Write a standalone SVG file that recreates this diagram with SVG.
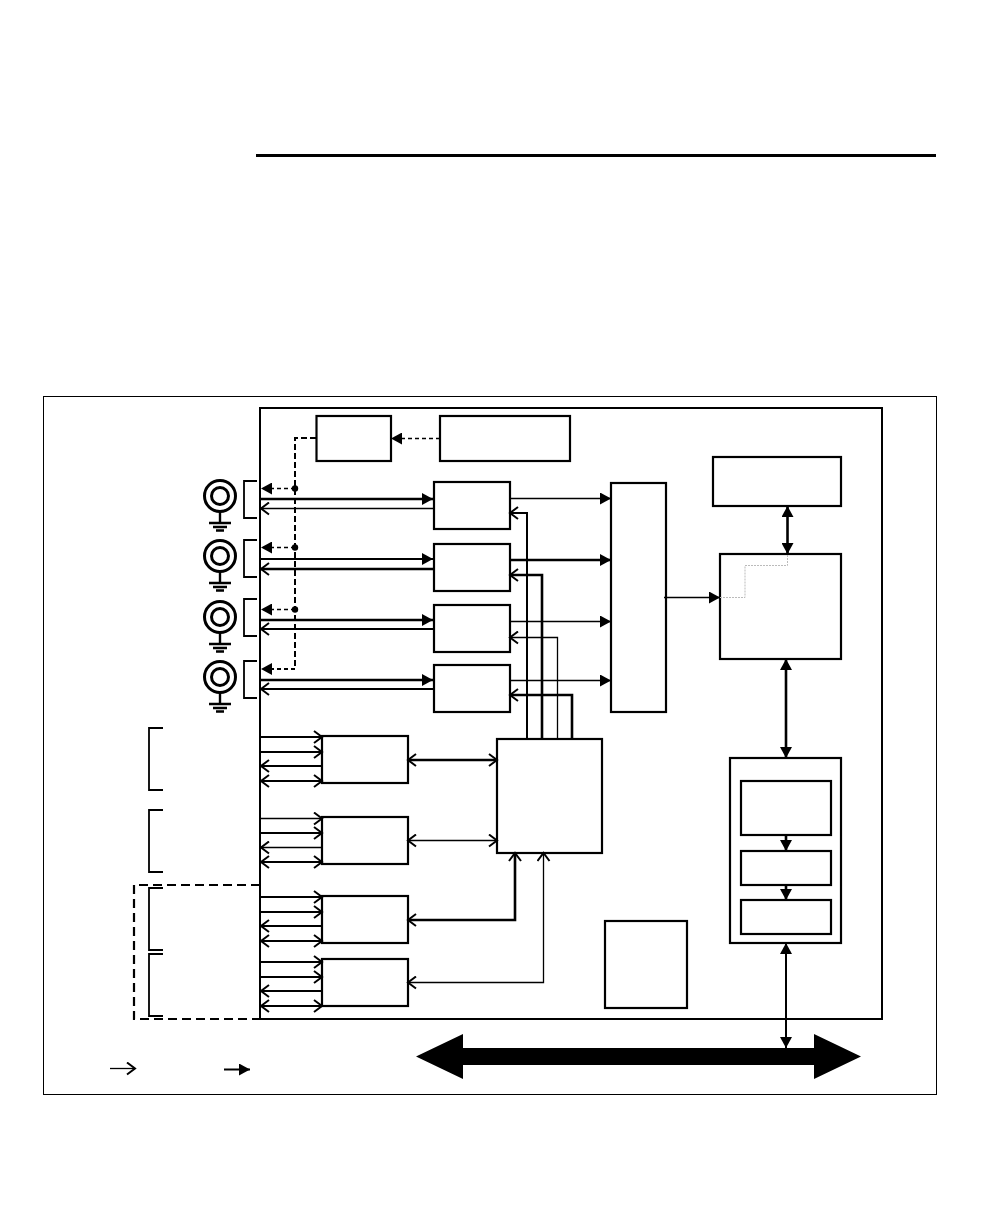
<svg xmlns="http://www.w3.org/2000/svg" width="1008" height="1224" viewBox="0 0 1008 1224">
<style>
.box{fill:#fff;stroke:#000;stroke-width:2.2}
.w{fill:none;stroke:#000;stroke-width:1.3}
.m{fill:none;stroke:#000;stroke-width:2}
.t{fill:none;stroke:#000;stroke-width:2.6}
.d{fill:none;stroke:#000;stroke-width:1.6;stroke-dasharray:4 3}
.dv{fill:none;stroke:#000;stroke-width:2;stroke-dasharray:6 3}
.dd{fill:none;stroke:#000;stroke-width:2.2;stroke-dasharray:9 5}
.g{fill:none;stroke:#bbb;stroke-width:1;stroke-dasharray:2 1}
.oe{marker-end:url(#open)}
.os{marker-start:url(#openS)}
.fe{marker-end:url(#fill)}
.fs{marker-start:url(#fillS)}
</style>
<defs>
<marker id="open" markerUnits="userSpaceOnUse" markerWidth="12" markerHeight="14" refX="10" refY="7" orient="auto"><path d="M2,1 L10,7 L2,13" fill="none" stroke="#000" stroke-width="2"/></marker>
<marker id="openS" markerUnits="userSpaceOnUse" markerWidth="12" markerHeight="14" refX="2" refY="7" orient="auto"><path d="M10,1 L2,7 L10,13" fill="none" stroke="#000" stroke-width="2"/></marker>
<marker id="fill" markerUnits="userSpaceOnUse" markerWidth="11" markerHeight="12" refX="11" refY="6" orient="auto"><path d="M0,0 L11,6 L0,12 Z" fill="#000"/></marker>
<marker id="fillS" markerUnits="userSpaceOnUse" markerWidth="11" markerHeight="12" refX="0" refY="6" orient="auto"><path d="M11,0 L0,6 L11,12 Z" fill="#000"/></marker>
<g id="jack"><circle cx="0" cy="0" r="15.5" fill="none" stroke="#000" stroke-width="3"/><circle cx="0" cy="0" r="8.5" fill="none" stroke="#000" stroke-width="3"/><path d="M0,15 V27" stroke="#000" stroke-width="2.4"/><path d="M-11,27 H11 M-7,31 H7 M-4,34.500 H4" stroke="#000" stroke-width="2.4"/></g>
<path id="br" d="M13,0 H0 V37 H13" fill="none" stroke="#000" stroke-width="1.800"/>
<path id="lbr" d="M14,0 H0 V62 H14" fill="none" stroke="#000" stroke-width="1.800"/>
</defs>
<rect width="1008" height="1224" fill="#fff"/>
<path id="rule" d="M256,155.500 H936" stroke="#000" stroke-width="3"/>
<rect id="frame" x="43.500" y="396.500" width="893" height="698" fill="none" stroke="#000" stroke-width="1"/>
<rect id="main" x="260" y="408" width="622" height="611" fill="none" stroke="#000" stroke-width="2"/>
<path id="expansion" class="dd" d="M260,885 H134 V1019 H260"/>

<g id="nodes">
<g id="n-a"><rect class="box" x="316.500" y="416" width="74.500" height="45"/></g>
<g id="n-b"><rect class="box" x="440" y="416" width="130" height="45"/></g>
<g id="n-ch1"><rect class="box" x="434" y="482" width="76" height="47"/></g>
<g id="n-ch2"><rect class="box" x="434" y="544" width="76" height="47"/></g>
<g id="n-ch3"><rect class="box" x="434" y="605" width="76" height="47"/></g>
<g id="n-ch4"><rect class="box" x="434" y="665" width="76" height="47"/></g>
<g id="n-mux"><rect class="box" x="611" y="483" width="55" height="229"/></g>
<g id="n-d"><rect class="box" x="713" y="457" width="128" height="49"/></g>
<g id="n-c"><rect class="box" x="720" y="554" width="121" height="105"/></g>
<g id="n-e"><rect class="box" x="730" y="758" width="111" height="185"/></g>
<g id="n-e1"><rect class="box" x="741" y="781" width="90" height="54"/></g>
<g id="n-e2"><rect class="box" x="741" y="851" width="90" height="34"/></g>
<g id="n-e3"><rect class="box" x="741" y="900" width="90" height="34"/></g>
<g id="n-f"><rect class="box" x="605" y="921" width="82" height="87"/></g>
<g id="n-center"><rect class="box" x="497" y="739" width="105" height="114"/></g>
<g id="n-p1"><rect class="box" x="322" y="736" width="86" height="47"/></g>
<g id="n-p2"><rect class="box" x="322" y="817" width="86" height="47"/></g>
<g id="n-p3"><rect class="box" x="322" y="896" width="86" height="47"/></g>
<g id="n-p4"><rect class="box" x="322" y="959" width="86" height="47"/></g>
<g id="n-j1"><use href="#jack" x="220" y="496"/></g>
<g id="n-j2"><use href="#jack" x="220" y="556"/></g>
<g id="n-j3"><use href="#jack" x="220" y="617"/></g>
<g id="n-j4"><use href="#jack" x="220" y="677"/></g>
<g id="n-bus"><path d="M416,1056.500 L463,1034 V1048 H814 V1034 L861,1056.500 L814,1079 V1065 H463 V1079 Z" fill="#000"/></g>
</g>

<g id="brackets">
<use href="#br" x="244" y="481"/><use href="#br" x="244" y="540"/><use href="#br" x="244" y="599"/><use href="#br" x="244" y="661"/>
<use href="#lbr" x="149" y="728"/><use href="#lbr" x="149" y="810"/><use href="#lbr" x="149" y="888"/><use href="#lbr" x="149" y="954"/>
</g>

<g id="connectors">
<path class="d fe" d="M440,438.500 H391"/>
<path class="dv" d="M316,438 H295 V669"/>
<path class="d fe" d="M295,488.500 H261"/>
<path class="d fe" d="M295,547.500 H261"/>
<path class="d fe" d="M295,609.500 H261"/>
<path class="d fe" d="M295,669 H261" style="stroke-width:2"/>
<circle cx="295" cy="488.500" r="3.200" fill="#000"/><circle cx="295" cy="547.500" r="3.200" fill="#000"/><circle cx="295" cy="609.500" r="3.200" fill="#000"/>

<path class="t fe" d="M261,499 H433"/><path class="w oe" d="M434,508.500 H261"/>
<path class="m fe" d="M261,559 H433"/><path class="t oe" d="M434,569 H261"/>
<path class="t fe" d="M261,620 H433"/><path class="m oe" d="M434,629 H261"/>
<path class="t fe" d="M261,680 H433"/><path class="m oe" d="M434,689 H261"/>

<path class="w fe" d="M510,498.500 H611"/>
<path class="t fe" d="M510,560 H611"/>
<path class="w fe" d="M510,621.500 H611"/>
<path class="w fe" d="M510,680.500 H611"/>
<path class="w fe" d="M664,597.500 H720"/>
<path class="g" d="M720,597.500 H745 V565.500 H787.500 V554"/>

<path class="m oe" d="M527,739 V513 H510"/>
<path class="t oe" d="M542,739 V575 H510"/>
<path class="w oe" d="M557.500,739 V637.500 H510"/>
<path class="t oe" d="M572,739 V695 H510"/>

<path class="t fe fs" d="M787.500,506 V554"/>
<path class="t fe fs" d="M786,659 V758"/>
<path class="t fe" d="M786,835 V851"/>
<path class="t fe" d="M786,885 V900"/>
<path class="m fe fs" d="M786,943 V1048"/>

<path class="m oe" d="M261,737 H322"/><path class="m oe" d="M261,752 H322"/><path class="m oe" d="M322,766 H261"/><path class="m oe os" d="M261,781 H322"/>
<path class="w oe" d="M261,818.500 H322"/><path class="m oe" d="M261,833 H322"/><path class="w oe" d="M322,847.500 H261"/><path class="m oe os" d="M261,862 H322"/>
<path class="m oe" d="M261,897 H322"/><path class="m oe" d="M261,912 H322"/><path class="m oe" d="M322,926 H261"/><path class="m oe os" d="M261,941 H322"/>
<path class="m oe" d="M261,962 H322"/><path class="m oe" d="M261,977 H322"/><path class="m oe" d="M322,991 H261"/><path class="m oe os" d="M261,1006 H322"/>

<path class="t oe os" d="M408,760 H497"/>
<path class="w oe os" d="M408,840.500 H497"/>
<path class="t oe os" d="M408,920 H515 V853"/>
<path class="w oe os" d="M408,982.500 H543.500 V853"/>

<path class="w oe" d="M110,1068.500 H135"/>
<path class="m fe" d="M224,1069.500 H250"/>
</g>
</svg>
